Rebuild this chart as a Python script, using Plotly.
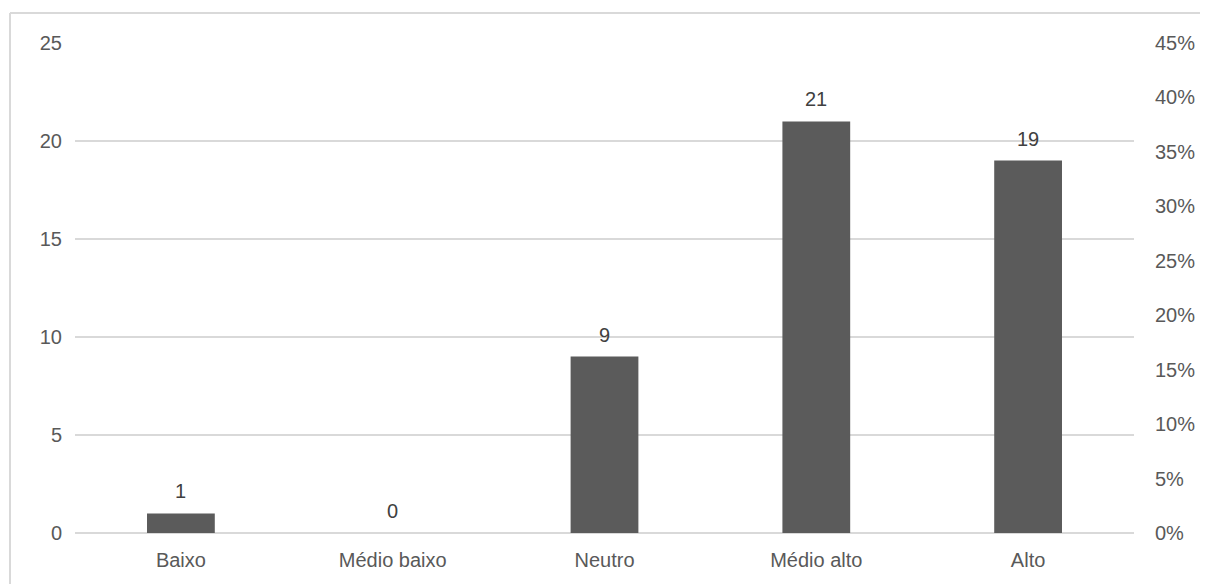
import plotly.graph_objects as go

categories = ["Baixo", "Médio baixo", "Neutro", "Médio alto", "Alto"]
counts = [1, 0, 9, 21, 19]
left_ticks = [0, 5, 10, 15, 20, 25]
right_ticks = [0, 0.05, 0.10, 0.15, 0.20, 0.25, 0.30, 0.35, 0.40, 0.45]

# page has an 8px body margin; figure is placed at (8, 8)
OFF = 8
W, H = 1200, 576
ml, mr, mt, mb = 75 - OFF, 74, 43 - OFF, 51
pw, ph = W - ml - mr, H - mt - mb

FONT = "Liberation Sans, Arial, sans-serif"
TXT = "#595959"
GRID = "#d9d9d9"
FS = 20

fig = go.Figure()
fig.add_trace(go.Bar(
    x=categories, y=counts,
    marker=dict(color="#5b5b5b", line=dict(width=0)),
    hoverinfo="skip", showlegend=False,
))
fig.add_trace(go.Scatter(
    x=categories, y=[0] * len(categories), yaxis="y2",
    mode="markers", marker=dict(opacity=0), hoverinfo="skip", showlegend=False,
))
for c, v in zip(categories, counts):
    fig.add_annotation(x=c, y=v, text=str(v), showarrow=False, yanchor="bottom",
                       yshift=9, font=dict(family=FONT, size=FS, color="#404040"))

def px_x(p):
    return (p - OFF - ml) / pw

def px_y(p):
    return 1 - (p - OFF - mt) / ph

border = dict(color=GRID, width=2)
fig.add_shape(type="line", xref="paper", yref="paper",
              x0=px_x(10), x1=px_x(1215), y0=px_y(13), y1=px_y(13), line=border)
fig.add_shape(type="line", xref="paper", yref="paper",
              x0=px_x(10), x1=px_x(10), y0=px_y(13), y1=px_y(590), line=border)

fig.update_layout(
    width=W, height=H,
    margin=dict(l=ml, r=mr, t=mt, b=mb),
    paper_bgcolor="white", plot_bgcolor="white",
    bargap=0.68,
    font=dict(family=FONT, size=FS, color=TXT),
    xaxis=dict(showgrid=False, showline=False, ticks="", tickfont=dict(size=FS, color=TXT),
               ticklabelstandoff=13),
    yaxis=dict(range=[0, 25], tickvals=left_ticks, showgrid=True, gridcolor=GRID, gridwidth=1.5,
               zeroline=True, zerolinecolor=GRID, zerolinewidth=1.5, showline=False,
               ticks="", tickfont=dict(size=FS, color=TXT), ticklabelstandoff=12),
    yaxis2=dict(range=[0, 0.45], tickvals=right_ticks, tickformat=".0%", overlaying="y",
                side="right", showgrid=False, zeroline=False, showline=False, ticks="",
                tickfont=dict(size=FS, color=TXT), ticklabelstandoff=20),
)

fig.write_html("out.html")
